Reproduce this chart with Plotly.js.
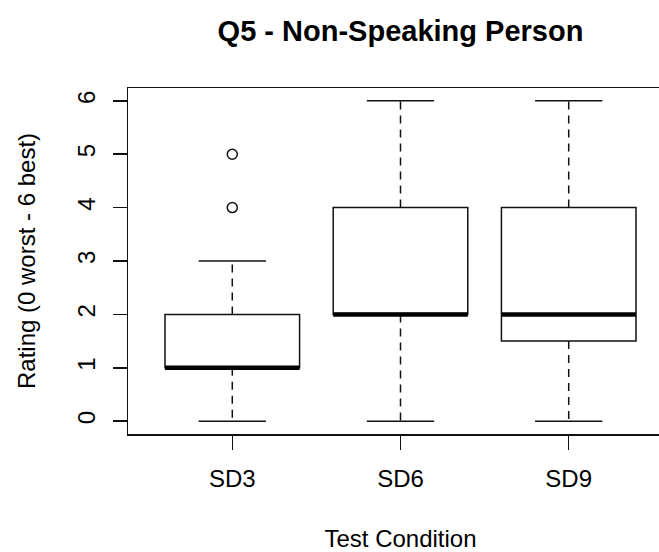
<!DOCTYPE html>
<html>
<head>
<meta charset="utf-8">
<script src="https://cdn.plot.ly/plotly-3.0.1.min.js"></script>
<style>
  html, body { margin: 0; padding: 0; overflow: hidden; background: #fff; }
  #chart { width: 690px; height: 552px; }
</style>
</head>
<body>
<div id="chart"></div>
<script>
// Rating summary per test condition (five-number summaries + outliers)
const categories   = ['SD3', 'SD6', 'SD9'];
const lowerWhisker = [0, 0, 0];
const q1           = [1, 2, 1.5];
const medianVals   = [1, 2, 2];
const q3           = [2, 4, 4];
const upperWhisker = [3, 6, 6];
const outlierGroup = ['SD3', 'SD3'];
const outlierValue = [4, 5];
const yTicks       = [0, 1, 2, 3, 4, 5, 6];

const pos = categories.map((_, i) => i + 1);
const BOX_W = 0.8;
const CAP_HALF = BOX_W / 4;
const INK = '#111';
const FONT = '"Liberation Sans", Arial, sans-serif';

// Boxes (q1..q3) — whiskers are drawn separately as dashed lines
const boxTrace = {
  type: 'box',
  x: pos,
  q1: q1,
  median: medianVals,
  q3: q3,
  lowerfence: q1,
  upperfence: q3,
  width: BOX_W,
  whiskerwidth: 0,
  boxpoints: false,
  line: { color: INK, width: 1.5 },
  fillcolor: 'rgba(255,255,255,0)',
  hoverinfo: 'skip',
  showlegend: false
};

// Dashed whiskers
const wx = [], wy = [];
pos.forEach((p, i) => {
  wx.push(p, p, null, p, p, null);
  wy.push(q1[i], lowerWhisker[i], null, q3[i], upperWhisker[i], null);
});
const whiskerTrace = {
  type: 'scatter', mode: 'lines', x: wx, y: wy,
  line: { color: INK, width: 1.5, dash: '8px,6px' },
  hoverinfo: 'skip', showlegend: false
};

// Staples at the whisker ends
const cx = [], cy = [];
pos.forEach((p, i) => {
  cx.push(p - CAP_HALF, p + CAP_HALF, null, p - CAP_HALF, p + CAP_HALF, null);
  cy.push(lowerWhisker[i], lowerWhisker[i], null, upperWhisker[i], upperWhisker[i], null);
});
const capTrace = {
  type: 'scatter', mode: 'lines', x: cx, y: cy,
  line: { color: INK, width: 1.5 },
  hoverinfo: 'skip', showlegend: false
};

// Heavy median bars
const mx = [], my = [];
pos.forEach((p, i) => {
  mx.push(p - BOX_W / 2, p + BOX_W / 2, null);
  my.push(medianVals[i], medianVals[i], null);
});
const medianTrace = {
  type: 'scatter', mode: 'lines', x: mx, y: my,
  line: { color: '#000', width: 4.5 },
  hoverinfo: 'skip', showlegend: false
};

// Outlying ratings
const outlierTrace = {
  type: 'scatter', mode: 'markers',
  x: outlierGroup.map(g => categories.indexOf(g) + 1),
  y: outlierValue,
  marker: { symbol: 'circle-open', size: 10, color: INK, line: { width: 1.5, color: INK } },
  hoverinfo: 'skip', showlegend: false
};

const layout = {
  width: 690,
  height: 552,
  margin: { l: 128, r: 17, t: 88, b: 118 },
  paper_bgcolor: '#fff',
  plot_bgcolor: '#fff',
  font: { family: FONT, size: 24, color: '#000' },
  showlegend: false,
  title: {
    text: '<b>Q5 - Non-Speaking Person</b>',
    font: { family: FONT, size: 29, color: '#000' },
    x: 0.5, xref: 'paper', xanchor: 'center',
    y: 1 - 31 / 552, yref: 'container', yanchor: 'middle'
  },
  xaxis: {
    range: [0.38, 3.62],
    tickmode: 'array',
    tickvals: pos,
    ticktext: categories,
    ticks: 'outside', ticklen: 14, tickwidth: 1.5, tickcolor: INK,
    showline: true, linecolor: INK, linewidth: 1.5, mirror: true,
    showgrid: false, zeroline: false,
    tickfont: { family: FONT, size: 24, color: '#000' },
    ticklabelstandoff: 9,
    title: { text: 'Test Condition', font: { family: FONT, size: 24, color: '#000' }, standoff: 41 },
    automargin: false
  },
  yaxis: {
    range: [-0.24, 6.24],
    tickmode: 'array',
    tickvals: yTicks,
    ticktext: yTicks.map(String),
    tickangle: -90,
    ticks: 'outside', ticklen: 14, tickwidth: 1.5, tickcolor: INK,
    showline: true, linecolor: INK, linewidth: 1.5, mirror: true,
    showgrid: false, zeroline: false,
    tickfont: { family: FONT, size: 24, color: '#000' },
    ticklabelstandoff: 8,
    title: { text: 'Rating (0 worst - 6 best)', font: { family: FONT, size: 24, color: '#000' }, standoff: 30 },
    automargin: false
  }
};

Plotly.newPlot('chart',
  [boxTrace, whiskerTrace, capTrace, medianTrace, outlierTrace],
  layout,
  { staticPlot: true, displayModeBar: false });
</script>
</body>
</html>
